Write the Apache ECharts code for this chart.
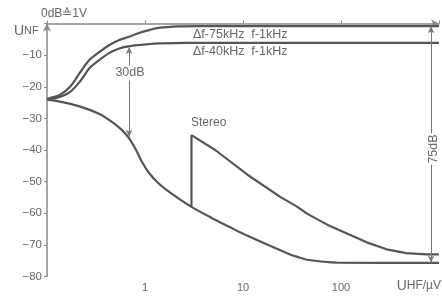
<!DOCTYPE html>
<html><head><meta charset="utf-8">
<script src="https://cdn.jsdelivr.net/npm/echarts@6/dist/echarts.min.js"></script>
<style>html,body{margin:0;padding:0;background:#fff}#c{width:442px;height:297px}</style>
</head><body><div id="c"></div>
<script>
// Data (x in µV, y in dB)
const curve75 = [[0.1,-24],[0.107,-23.6],[0.135,-22.6],[0.171,-20.1],[0.215,-15.7],[0.272,-11.5],[0.343,-9.0],[0.433,-6.8],[0.546,-5.2],[0.689,-4.2],[0.869,-3.0],[1.1,-2.1],[1.38,-1.4],[2.2,-0.9],[3.5,-0.8],[1000,-0.8]];
const curve40 = [[0.1,-24],[0.107,-23.9],[0.135,-23.2],[0.171,-21.7],[0.215,-18.5],[0.272,-14.1],[0.343,-11.5],[0.433,-9.3],[0.546,-7.9],[0.689,-7.2],[0.869,-6.8],[1.1,-6.5],[1.38,-6.3],[2.5,-6.1],[1000,-6.1]];
const curveMono = [[0.1,-24.1],[0.135,-24.7],[0.215,-26.2],[0.343,-28.6],[0.464,-31.2],[0.586,-33.8],[0.689,-36.3],[0.811,-40.0],[0.933,-43.8],[1.096,-47.2],[1.38,-50.6],[1.87,-53.8],[2.98,-58.0],[4.74,-61.4],[7.58,-64.6],[9.55,-66.2],[16.7,-69.6],[28.5,-72.7],[35.9,-73.8],[45.4,-74.7],[91,-75.6],[1000,-75.7]];
const curveStereo = [[2.98,-58.0],[2.98,-35.3],[5.2,-40.0],[11.2,-47.9],[24.2,-54.9],[35.9,-58.0],[45.4,-60.2],[72.3,-63.6],[115,-66.4],[183,-69.2],[292,-71.4],[464,-72.6],[739,-73.0],[1000,-73.0]];
const arrow30 = [[0.689,-7.4],[0.689,-35.8]];
const arrow75 = [[830,-0.9],[830,-75.6]];
const yTicks = [-80,-70,-60,-50,-40,-30,-20,-10];
const xTickLabels = [1,10,100];

const grey = '#555';
const font = 'Liberation Sans';
const chart = echarts.init(document.getElementById('c'));
function lineSeries(data, smooth){
  return {type:'line', data:data, smooth:smooth, symbol:'none', silent:true,
    lineStyle:{color:grey, width:2.2}, z:3};
}
function arrowSeries(pts){
  return {type:'line', data:[], symbol:'none', silent:true,
    markLine:{silent:true, symbol:['arrow','arrow'], symbolSize:[5,7],
      lineStyle:{color:'#777', width:1, type:'solid'}, label:{show:false},
      data:[[{coord:pts[0]},{coord:pts[1]}]]}};
}
chart.setOption({
  animation:false,
  grid:{left:47, right:0, top:23.5, bottom:20.5},
  xAxis:{type:'log', logBase:10, min:0.1, max:1000,
    axisLine:{lineStyle:{color:'#888', width:1.5}, symbol:['none','arrow'], symbolSize:[6,8]},
    axisTick:{show:true, inside:true, length:3, lineStyle:{color:'#888'}},
    splitLine:{show:false}, minorTick:{show:false},
    axisLabel:{color:'#666', fontSize:11, fontFamily:font, margin:6,
      formatter:v=> xTickLabels.indexOf(Math.round(v*1000)/1000)>=0 ? String(Math.round(v)) : ''}},
  yAxis:{type:'value', min:-80, max:0, interval:10,
    axisLine:{show:true, lineStyle:{color:'#888', width:1.5}, symbol:['none','arrow'], symbolSize:[6,8]},
    axisTick:{show:true, length:3, lineStyle:{color:'#888'}},
    splitLine:{show:false},
    axisLabel:{color:'#666', fontSize:11.5, fontFamily:font, margin:5,
      formatter:v=> yTicks.indexOf(v)>=0 ? '\u2212' + Math.abs(v) : ''}},
  series:[
    lineSeries(curve75, 0.35),
    lineSeries(curve40, 0.35),
    lineSeries(curveMono, 0.3),
    lineSeries(curveStereo, false),
    arrowSeries(arrow30),
    arrowSeries(arrow75)
  ],
  graphic:[
    {type:'text', left:14, top:24, z:10, style:{text:'{a|U}{b|NF}', fill:'#666',
      rich:{a:{fontSize:14,fontFamily:font,fill:'#666'}, b:{fontSize:11,fontFamily:font,fill:'#666'}}}},
    {type:'text', left:41, top:8, z:10, style:{text:'0dB≙1V', fill:'#666', fontSize:12, fontFamily:font}},
    {type:'text', left:193, top:28, z:10, style:{text:'Δf-75kHz  f-1kHz', fill:'#666', fontSize:12.5, fontFamily:font}},
    {type:'text', left:193, top:45, z:10, style:{text:'Δf-40kHz  f-1kHz', fill:'#666', fontSize:12.5, fontFamily:font}},
    {type:'text', left:191, top:117, z:10, style:{text:'Stereo', fill:'#666', fontSize:12, fontFamily:font}},
    {type:'text', x:130, y:73, z:10, style:{text:'30dB', fill:'#666', fontSize:12.5, fontFamily:font,
      align:'center', verticalAlign:'middle', backgroundColor:'#fff', padding:[1,0]}},
    {type:'text', x:434, y:149, rotation:Math.PI/2, z:10, style:{text:'75dB', fill:'#666', fontSize:12.5, fontFamily:font,
      align:'center', verticalAlign:'middle', backgroundColor:'#fff', padding:[0,1]}},
    {type:'text', right:1, top:279, z:10, style:{text:'{a|U}{b|HF/µV}', fill:'#666',
      rich:{a:{fontSize:14,fontFamily:font,fill:'#666'}, b:{fontSize:12,fontFamily:font,fill:'#666'}}}}
  ]
});
</script></body></html>
